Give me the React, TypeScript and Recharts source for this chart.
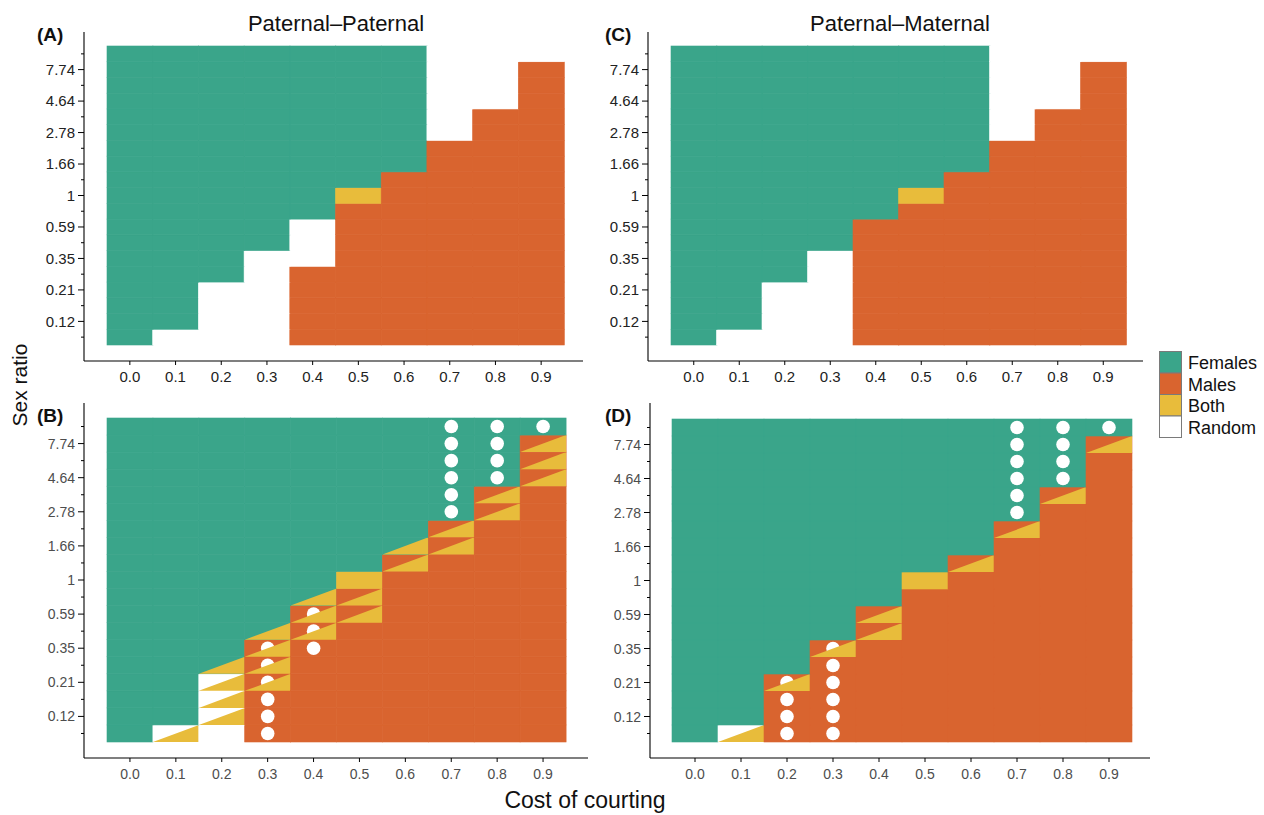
import { BarChart, Bar, XAxis, YAxis } from 'recharts'

const COSTS = ['0.0', '0.1', '0.2', '0.3', '0.4', '0.5', '0.6', '0.7', '0.8', '0.9']

// sex-ratio rows, bottom to top; only every other one carries a label
const RATIO_ROWS = ['0.1', '0.12', '0.16', '0.21', '0.27', '0.35', '0.46', '0.59', '0.77', '1',
  '1.29', '1.66', '2.15', '2.78', '3.59', '4.64', '5.99', '7.74', '10']

// one string per cost column, one char per ratio row (bottom first)
// F females, M males, B both, R random; lower case = split cell, Both in the lower right
const PP_TOP = [
  'FFFFFFFFFFFFFFFFFFF',
  'RFFFFFFFFFFFFFFFFFF',
  'RRRRFFFFFFFFFFFFFFF',
  'RRRRRRFFFFFFFFFFFFF',
  'MMMMMRRRFFFFFFFFFFF',
  'MMMMMMMMMBFFFFFFFFF',
  'MMMMMMMMMMMFFFFFFFF',
  'MMMMMMMMMMMMMRRRRRR',
  'MMMMMMMMMMMMMMMRRRR',
  'MMMMMMMMMMMMMMMMMMR',
]

const PM_TOP = [
  'FFFFFFFFFFFFFFFFFFF',
  'RFFFFFFFFFFFFFFFFFF',
  'RRRRFFFFFFFFFFFFFFF',
  'RRRRRRFFFFFFFFFFFFF',
  'MMMMMMMMFFFFFFFFFFF',
  'MMMMMMMMMBFFFFFFFFF',
  'MMMMMMMMMMMFFFFFFFF',
  'MMMMMMMMMMMMMRRRRRR',
  'MMMMMMMMMMMMMMMRRRR',
  'MMMMMMMMMMMMMMMMMMR',
]

const PP_BOTTOM = [
  'FFFFFFFFFFFFFFFFFFF',
  'rFFFFFFFFFFFFFFFFFF',
  'RrrrfFFFFFFFFFFFFFF',
  'MMMmmmfFFFFFFFFFFFF',
  'MMMMMMmmfFFFFFFFFFF',
  'MMMMMMMmmBFFFFFFFFF',
  'MMMMMMMMMMmfFFFFFFF',
  'MMMMMMMMMMMmmFFFFFF',
  'MMMMMMMMMMMMMmmFFFF',
  'MMMMMMMMMMMMMMMmmmF',
]

const PP_BOTTOM_DOTS = [
  '...................',
  '...................',
  '...................',
  'oooooo.............',
  '.....ooo...........',
  '...................',
  '...................',
  '.............oooooo',
  '...............oooo',
  '..................o',
]

const PM_BOTTOM = [
  'FFFFFFFFFFFFFFFFFFF',
  'rFFFFFFFFFFFFFFFFFF',
  'MMMmFFFFFFFFFFFFFFF',
  'MMMMMmFFFFFFFFFFFFF',
  'MMMMMMmmFFFFFFFFFFF',
  'MMMMMMMMMBFFFFFFFFF',
  'MMMMMMMMMMmFFFFFFFF',
  'MMMMMMMMMMMMmFFFFFF',
  'MMMMMMMMMMMMMMmFFFF',
  'MMMMMMMMMMMMMMMMMmF',
]

const PM_BOTTOM_DOTS = [
  '...................',
  '...................',
  'oooo...............',
  'oooooo.............',
  '...................',
  '...................',
  '...................',
  '.............oooooo',
  '...............oooo',
  '..................o',
]

const LEGEND_LABELS = ['Females', 'Males', 'Both', 'Random']

const GREEN = '#3aa58a'
const ORANGE = '#d9642f'
const YELLOW = '#e8bc3b'
const WHITE = '#ffffff'
const LEGEND_COLORS = [GREEN, ORANGE, YELLOW, WHITE]

const BASE: Record<string, string> = {
  F: GREEN, M: ORANGE, B: YELLOW, R: WHITE,
  f: GREEN, m: ORANGE, r: WHITE,
}

const FONT = '"Liberation Sans", Arial, Helvetica, sans-serif'

const cellShape = (row: number) => (p: any) => {
  const { x, y, width: w, height: h, payload } = p
  const code = payload.fill[row]
  const base = BASE[code]
  const split = code === 'f' || code === 'm' || code === 'r'
  const dot = payload.dots[row] === 'o'
  return (
    <g>
      <rect x={x} y={y} width={w} height={h} fill={base} stroke={base} strokeWidth={0.6} />
      {dot && <circle cx={x + w / 2} cy={y + h / 2} r={6.8} fill={WHITE} />}
      {split && (
        <polygon points={`${x},${y + h} ${x + w},${y + h} ${x + w},${y}`} fill={YELLOW} />
      )}
    </g>
  )
}

const ratioTick = (fontSize: number, color: string) => (p: any) => {
  const i = Math.round(p.payload.value - 0.5)
  const major = i % 2 === 1
  const axisX = p.x + 9
  return (
    <g>
      <line x1={axisX - (major ? 6 : 3)} x2={axisX} y1={p.y} y2={p.y} stroke="#000" strokeWidth={1} />
      {major && (
        <text x={p.x} y={p.y} dy="0.36em" textAnchor="end" fontSize={fontSize} fill={color}>
          {RATIO_ROWS[i]}
        </text>
      )}
    </g>
  )
}

interface PanelProps {
  fills: string[]
  dots?: string[]
  left: number
  top: number
  width: number
  height: number
  marginTop: number
  marginRight: number
  xAxisHeight: number
  padX: { left: number; right: number }
  padY: { top: number; bottom: number }
  fontSize: number
  color: string
  tickMargin: number
}

function Panel(props: PanelProps) {
  const { fills, dots, fontSize, color } = props
  const data = COSTS.map((cost, c) => {
    const entry: any = { cost, fill: fills[c], dots: dots ? dots[c] : '' }
    RATIO_ROWS.forEach((_, r) => { entry['r' + r] = 1 })
    return entry
  })
  const ticks = RATIO_ROWS.map((_, i) => i + 0.5)

  return (
    <div style={{ position: 'absolute', left: props.left, top: props.top }}>
      <BarChart
        width={props.width}
        height={props.height}
        data={data}
        margin={{ top: props.marginTop, right: props.marginRight, bottom: 0, left: 0 }}
        barCategoryGap={0}
        barGap={0}
      >
        <XAxis
          dataKey="cost"
          interval={0}
          height={props.xAxisHeight}
          padding={props.padX}
          tickSize={4}
          tickMargin={props.tickMargin}
          axisLine={{ stroke: '#000', strokeWidth: 1.1 }}
          tickLine={{ stroke: '#000' }}
          tick={{ fontSize, fill: color }}
        />
        <YAxis
          type="number"
          domain={[0, 19]}
          ticks={ticks}
          interval={0}
          width={84}
          padding={props.padY}
          tickSize={6}
          tickMargin={3}
          tickLine={false}
          axisLine={{ stroke: '#000', strokeWidth: 1.1 }}
          tick={ratioTick(fontSize, color)}
        />
        {RATIO_ROWS.map((_, r) => (
          <Bar
            key={r}
            dataKey={'r' + r}
            stackId="cells"
            isAnimationActive={false}
            shape={cellShape(r)}
          />
        ))}
      </BarChart>
    </div>
  )
}

export default function App() {
  return (
    <div
      style={{
        position: 'absolute', left: 0, top: 0, width: 1264, height: 815,
        overflow: 'hidden', background: '#fff', fontFamily: FONT,
      }}
    >
      <svg width={1264} height={815} style={{ position: 'absolute', left: 0, top: 0 }}>
        <text x={336} y={31} textAnchor="middle" fontSize={22} fill="#111">Paternal–Paternal</text>
        <text x={900} y={31} textAnchor="middle" fontSize={22} fill="#111">Paternal–Maternal</text>
        <text x={37} y={41} fontSize={19} fontWeight="bold" fill="#111">(A)</text>
        <text x={37} y={422} fontSize={19} fontWeight="bold" fill="#111">(B)</text>
        <text x={605} y={41} fontSize={19} fontWeight="bold" fill="#111">(C)</text>
        <text x={605} y={422} fontSize={19} fontWeight="bold" fill="#111">(D)</text>
        <text transform="rotate(-90)" x={-385} y={27} textAnchor="middle" fontSize={21} fill="#111">
          Sex ratio
        </text>
        <text x={585} y={808} textAnchor="middle" fontSize={23} fill="#111">Cost of courting</text>
        {LEGEND_LABELS.map((label, i) => (
          <g key={label}>
            <rect x={1159.5} y={351.5 + i * 21.5} width={22} height={21.5}
              fill={LEGEND_COLORS[i]} stroke="#7a7a7a" strokeWidth={1} />
            <text x={1188} y={369 + i * 21.5} fontSize={18} fill="#111">{label}</text>
          </g>
        ))}
      </svg>

      <Panel fills={PP_TOP} left={0} top={0} width={600} height={400}
        marginTop={32} marginRight={17} xAxisHeight={39}
        padX={{ left: 23, right: 19 }} padY={{ top: 14, bottom: 16 }}
        fontSize={15} color="#222" tickMargin={6} />
      <Panel fills={PM_TOP} left={564} top={0} width={600} height={400}
        marginTop={32} marginRight={21} xAxisHeight={39}
        padX={{ left: 23, right: 17 }} padY={{ top: 14, bottom: 16 }}
        fontSize={15} color="#222" tickMargin={6} />
      <Panel fills={PP_BOTTOM} dots={PP_BOTTOM_DOTS} left={0} top={380} width={600} height={420}
        marginTop={23} marginRight={12} xAxisHeight={42}
        padX={{ left: 23, right: 22 }} padY={{ top: 15, bottom: 16 }}
        fontSize={14} color="#4d4d4d" tickMargin={7} />
      <Panel fills={PM_BOTTOM} dots={PM_BOTTOM_DOTS} left={566} top={380} width={600} height={420}
        marginTop={23} marginRight={16} xAxisHeight={42}
        padX={{ left: 22, right: 18 }} padY={{ top: 16, bottom: 16 }}
        fontSize={14} color="#4d4d4d" tickMargin={7} />
    </div>
  )
}
